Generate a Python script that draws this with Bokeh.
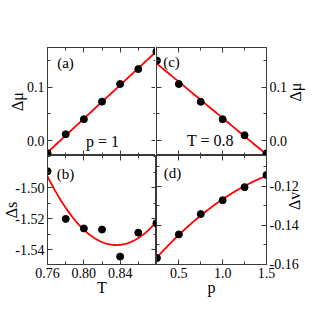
import numpy as np
from bokeh.plotting import figure
from bokeh.layouts import gridplot
from bokeh.models import (LinearAxis, FixedTicker, PrintfTickFormatter,
                          CustomJSTickFormatter, Label, Range1d)
from bokeh.embed import file_html
from bokeh.resources import INLINE

# ---------------- data ----------------
T = [0.76, 0.78, 0.80, 0.82, 0.84, 0.86, 0.88]
dmu_T = [-0.0238, 0.0119, 0.040, 0.073, 0.106, 0.134, 0.167]      # panel (a), p = 1
ds_T = [-1.4893, -1.5201, -1.5263, -1.5270, -1.5445, -1.5290, -1.5229]  # panel (b)
P = [0.25, 0.50, 0.75, 1.00, 1.25, 1.50]
dmu_P = [0.150, 0.106, 0.0726, 0.040, 0.010, -0.024]              # panel (c), T = 0.8
dv_P = [-0.1568, -0.1447, -0.1343, -0.1272, -0.1205, -0.1143]       # panel (d)

T_major = [0.76, 0.80, 0.84]
T_minor = [0.78, 0.82, 0.86, 0.88]
P_major = [0.5, 1.0, 1.5]
P_minor = [0.25, 0.75, 1.25]
mu_major = [0.0, 0.1]
mu_minor = [0.05, 0.15]
s_major = [-1.50, -1.52, -1.54]
s_minor = [-1.48, -1.49, -1.51, -1.53]
v_major = [-0.12, -0.14, -0.16]
v_minor = [-0.11, -0.13, -0.15]

FONT = "Liberation Serif"
AX = "#3a3a3a"

# page-pixel geometry of the four frames
XL0, XL1, XR1 = 46, 155, 265
YT0, YM, YB1 = 47, 155, 264
BL, BT, BR, BB = XL0, YT0, 46, 40

T_rng = (0.7599, 0.8801)
P_rng = (0.245, 1.5001)
mu_rng = (-0.028, 0.1745)
s_rng = (-1.5496, -1.4791)
v_rng = (-0.1601, -0.1043)


def style_axis(ax, major, minor, fmt, label=None, standoff=0, orient="parallel"):
    ax.ticker = FixedTicker(ticks=major, minor_ticks=minor)
    ax.major_tick_in = 5
    ax.major_tick_out = 0
    ax.minor_tick_in = 3
    ax.minor_tick_out = 0
    ax.axis_line_color = AX
    ax.major_tick_line_color = AX
    ax.minor_tick_line_color = AX
    ax.major_label_text_font = FONT
    ax.major_label_text_font_size = "14px"
    ax.major_label_text_color = "black"
    if fmt is None:
        ax.formatter = CustomJSTickFormatter(code="return '';")
        ax.major_label_standoff = 0
    else:
        ax.formatter = PrintfTickFormatter(format=fmt)
        ax.major_label_standoff = 3
    if label is not None:
        ax.axis_label = label
        ax.axis_label_text_font = FONT
        ax.axis_label_text_font_size = "16px"
        ax.axis_label_text_font_style = "normal"
        ax.axis_label_text_color = "black"
        ax.axis_label_standoff = standoff
        ax.axis_label_orientation = orient


def panel(xr, yr, fw, fh, borders, axes):
    p = figure(frame_width=fw, frame_height=fh,
               x_range=Range1d(*xr), y_range=Range1d(*yr),
               x_axis_location=None, y_axis_location=None,
               output_backend="svg", toolbar_location=None,
               min_border_left=borders[0], min_border_right=borders[1],
               min_border_top=borders[2], min_border_bottom=borders[3])
    p.outline_line_color = AX
    p.background_fill_color = "white"
    p.border_fill_color = "white"
    p.grid.grid_line_color = None
    p.grid.visible = False
    for side, spec in axes.items():
        a = LinearAxis()
        style_axis(a, *spec)
        p.add_layout(a, side)
    return p


def to_data(px, py, box, xr, yr):
    x0, x1, y0, y1 = box
    x = xr[0] + (px - x0) / (x1 - x0) * (xr[1] - xr[0])
    y = yr[1] - (py - y0) / (y1 - y0) * (yr[1] - yr[0])
    return x, y


def add_text(p, txt, px, py, box, xr, yr, size):
    x, y = to_data(px, py, box, xr, yr)
    p.add_layout(Label(x=x, y=y, text=txt, text_font=FONT, text_font_size=size,
                       text_align="center", text_baseline="middle",
                       text_color="black"))


def draw(p, xs, ys, deg, xr):
    coef = np.polyfit(xs, ys, deg)
    xf = np.linspace(xr[0], xr[1], 120)
    p.line(xf, np.polyval(coef, xf), line_color="#ff0000", line_width=1.8)
    p.scatter(xs, ys, size=7, fill_color="black", line_color="black")


# (a) top-left
box_a = (XL0, XL1, YT0, YM)
pa = panel(T_rng, mu_rng, XL1 - XL0, YM - YT0, (BL, 0, BT, 0), {
    "below": (T_major, T_minor, None),
    "above": (T_major, T_minor, None),
    "left": (mu_major, mu_minor, "%.1f", "Δμ", -2),
    "right": (mu_major, mu_minor, None)})
draw(pa, T, dmu_T, 1, T_rng)
add_text(pa, "(a)", 64, 62, box_a, T_rng, mu_rng, "15px")
add_text(pa, "p = 1", 101, 141, box_a, T_rng, mu_rng, "16px")

# (c) top-right
box_c = (XL1, XR1, YT0, YM)
pc = panel(P_rng, mu_rng, XR1 - XL1, YM - YT0, (0, BR, BT, 0), {
    "below": (P_major, P_minor, None),
    "above": (P_major, P_minor, None),
    "left": (mu_major, mu_minor, None),
    "right": (mu_major, mu_minor, "%.1f", "Δμ", 5, np.pi / 2)})
draw(pc, P, dmu_P, 1, P_rng)
add_text(pc, "(c)", 170, 61, box_c, P_rng, mu_rng, "15px")
add_text(pc, "T = 0.8", 209, 140, box_c, P_rng, mu_rng, "16px")

# (b) bottom-left
box_b = (XL0, XL1, YM, YB1)
pb = panel(T_rng, s_rng, XL1 - XL0, YB1 - YM, (BL, 0, 0, BB), {
    "below": (T_major, T_minor, "%.2f", "T", -2),
    "above": (T_major, T_minor, None),
    "left": (s_major, s_minor, "%.2f", "Δs", -8),
    "right": (s_major, s_minor, None)})
draw(pb, T, ds_T, 2, T_rng)
add_text(pb, "(b)", 64, 173, box_b, T_rng, s_rng, "15px")

# (d) bottom-right
box_d = (XL1, XR1, YM, YB1)
pd_ = panel(P_rng, v_rng, XR1 - XL1, YB1 - YM, (0, BR, 0, BB), {
    "below": (P_major, P_minor, "%.1f", "p", -2),
    "above": (P_major, P_minor, None),
    "left": (v_major, v_minor, None),
    "right": (v_major, v_minor, "%.2f", "Δv", -7, np.pi / 2)})
draw(pd_, P, dv_P, 2, P_rng)
add_text(pd_, "(d)", 171, 172, box_d, P_rng, v_rng, "15px")

grid = gridplot([[pa, pc], [pb, pd_]], toolbar_location=None)

open("out.html", "w").write(file_html(grid, INLINE))
